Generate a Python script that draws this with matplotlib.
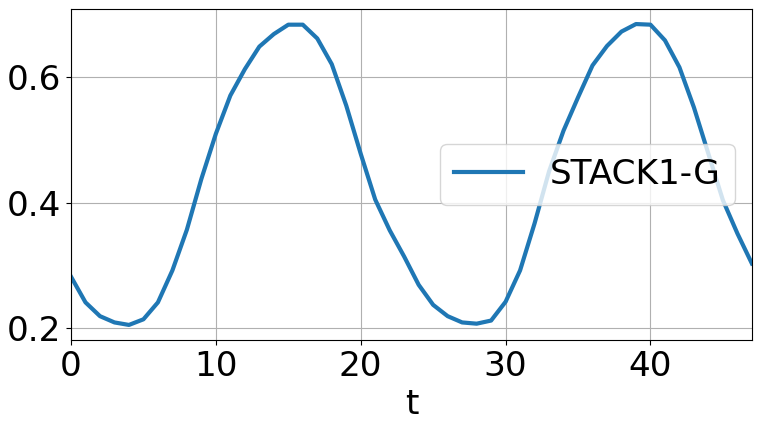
import numpy as np
import matplotlib
matplotlib.use('Agg')
import matplotlib.pyplot as plt

t = np.arange(48)
stack1_g = [0.282, 0.241, 0.219, 0.209, 0.205, 0.214, 0.241, 0.292, 0.357, 0.438,
            0.510, 0.571, 0.613, 0.649, 0.669, 0.684, 0.684, 0.662, 0.621, 0.555,
            0.478, 0.405, 0.356, 0.314, 0.269, 0.237, 0.219, 0.209, 0.207, 0.212,
            0.242, 0.292, 0.367, 0.450, 0.515, 0.568, 0.619, 0.650, 0.673, 0.685,
            0.684, 0.659, 0.616, 0.552, 0.478, 0.404, 0.351, 0.303]

plt.rcParams['font.size'] = 24.7

fig = plt.figure(figsize=(7.61, 4.29), dpi=100)
ax = fig.add_subplot(111)
ax.plot(t, stack1_g, color='#1f77b4', lw=3, label='STACK1-G')
ax.set_xlim(0, 47)
ax.margins(y=0.05)
ax.set_xticks([0, 10, 20, 30, 40])
ax.set_yticks([0.2, 0.4, 0.6])
ax.grid(True)
ax.set_xlabel('t')
ax.legend(loc='center right')
fig.subplots_adjust(left=0.0933, right=0.988, top=0.979, bottom=0.2075)
fig.savefig('out.png', dpi=100)
